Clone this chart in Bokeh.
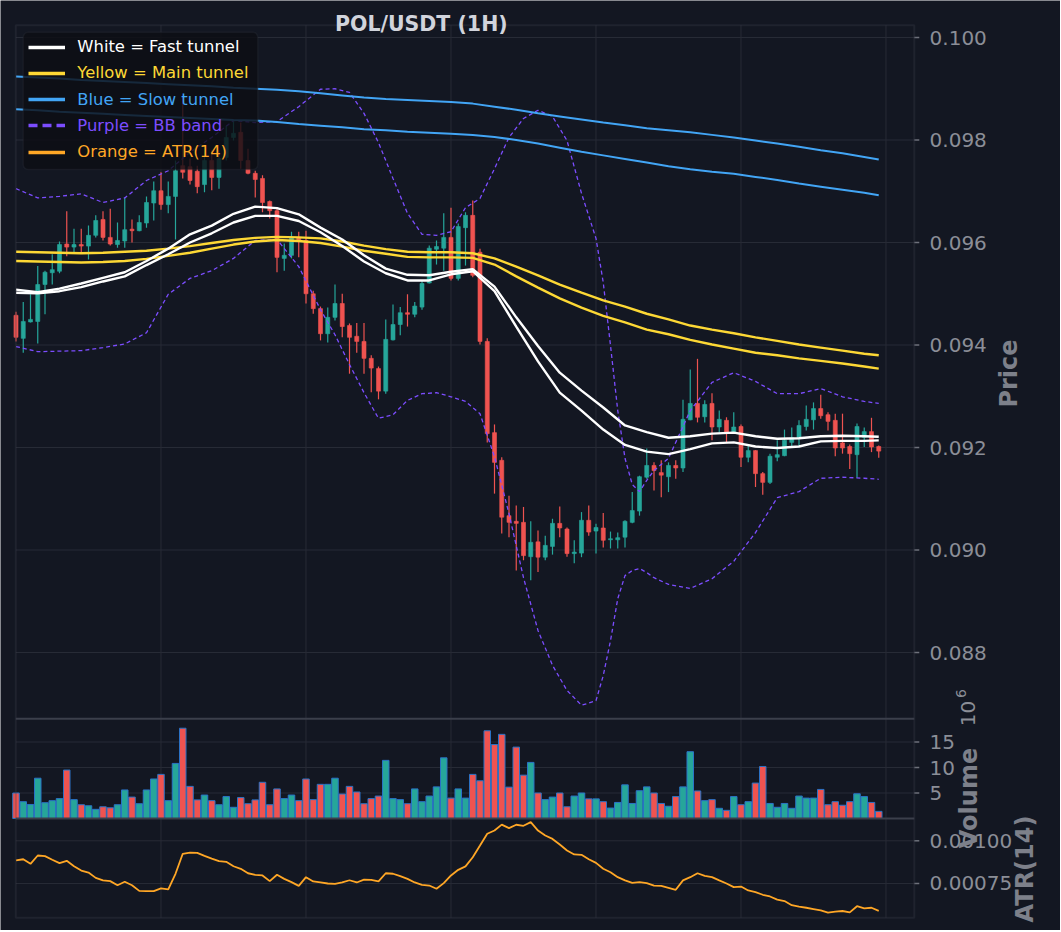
from math import pi
from bokeh.plotting import figure
from bokeh.models import Range1d, Label, Legend, LegendItem, BoxAnnotation, ColumnDataSource
from bokeh.embed import file_html
from bokeh.resources import INLINE

# ---------------- data ----------------
open_ = [
    0.09458, 0.09413, 0.09445, 0.09446, 0.09518, 0.09541, 0.09544, 0.09597, 0.09591, 0.09596,
    0.09593, 0.09614, 0.09645, 0.09610, 0.09596, 0.09603, 0.09626, 0.09623, 0.09638, 0.09677,
    0.09701, 0.09674, 0.09690, 0.09750, 0.09748, 0.09739, 0.09713, 0.09760, 0.09727, 0.09766,
    0.09805, 0.09815, 0.09760, 0.09735, 0.09725, 0.09680, 0.09662, 0.09569, 0.09575, 0.09610,
    0.09604, 0.09500, 0.09471, 0.09422, 0.09454, 0.09481, 0.09438, 0.09417, 0.09407, 0.09374,
    0.09354, 0.09310, 0.09410, 0.09440, 0.09463, 0.09460, 0.09474, 0.09521, 0.09587, 0.09589,
    0.09610, 0.09530, 0.09629, 0.09653, 0.09581, 0.09407, 0.09229, 0.09175, 0.09067, 0.09056,
    0.09054, 0.08987, 0.09016, 0.08986, 0.09007, 0.09052, 0.09041, 0.08993, 0.08994, 0.09058,
    0.09037, 0.09043, 0.09020, 0.09020, 0.09025, 0.09054, 0.09076, 0.09142, 0.09165, 0.09151,
    0.09143, 0.09165, 0.09160, 0.09254, 0.09286, 0.09260, 0.09286, 0.09240, 0.09253, 0.09230,
    0.09241, 0.09181, 0.09194, 0.09149, 0.09132, 0.09181, 0.09184, 0.09210, 0.09219, 0.09241,
    0.09254, 0.09276, 0.09264, 0.09253, 0.09209, 0.09202, 0.09186, 0.09220, 0.09231, 0.09202,
]
high = [
    0.09465, 0.09484, 0.09499, 0.09554, 0.09545, 0.09577, 0.09602, 0.09661, 0.09627, 0.09627,
    0.09633, 0.09653, 0.09661, 0.09666, 0.09639, 0.09688, 0.09645, 0.09653, 0.09690, 0.09719,
    0.09737, 0.09719, 0.09760, 0.09883, 0.09764, 0.09750, 0.09776, 0.09780, 0.09780, 0.09828,
    0.09838, 0.09834, 0.09783, 0.09740, 0.09731, 0.09682, 0.09668, 0.09598, 0.09621, 0.09621,
    0.09623, 0.09506, 0.09475, 0.09473, 0.09518, 0.09500, 0.09442, 0.09443, 0.09443, 0.09380,
    0.09358, 0.09450, 0.09479, 0.09474, 0.09499, 0.09484, 0.09526, 0.09594, 0.09604, 0.09657,
    0.09668, 0.09637, 0.09659, 0.09682, 0.09588, 0.09413, 0.09245, 0.09181, 0.09106, 0.09087,
    0.09084, 0.09056, 0.09038, 0.09028, 0.09061, 0.09085, 0.09044, 0.09019, 0.09074, 0.09087,
    0.09051, 0.09072, 0.09036, 0.09034, 0.09058, 0.09113, 0.09145, 0.09198, 0.09171, 0.09175,
    0.09171, 0.09175, 0.09293, 0.09352, 0.09373, 0.09292, 0.09306, 0.09272, 0.09259, 0.09269,
    0.09245, 0.09205, 0.09195, 0.09152, 0.09188, 0.09214, 0.09235, 0.09239, 0.09253, 0.09282,
    0.09288, 0.09303, 0.09269, 0.09266, 0.09266, 0.09206, 0.09247, 0.09239, 0.09258, 0.09204,
]
low = [
    0.09407, 0.09385, 0.09444, 0.09403, 0.09460, 0.09518, 0.09540, 0.09573, 0.09579, 0.09579,
    0.09567, 0.09610, 0.09604, 0.09594, 0.09590, 0.09590, 0.09600, 0.09622, 0.09629, 0.09643,
    0.09664, 0.09657, 0.09606, 0.09725, 0.09713, 0.09696, 0.09698, 0.09702, 0.09705, 0.09760,
    0.09799, 0.09744, 0.09733, 0.09688, 0.09659, 0.09647, 0.09542, 0.09545, 0.09569, 0.09571,
    0.09481, 0.09461, 0.09409, 0.09405, 0.09448, 0.09415, 0.09344, 0.09385, 0.09344, 0.09308,
    0.09294, 0.09305, 0.09409, 0.09419, 0.09436, 0.09454, 0.09469, 0.09520, 0.09557, 0.09545,
    0.09526, 0.09526, 0.09555, 0.09532, 0.09401, 0.09210, 0.09110, 0.09032, 0.09025, 0.08960,
    0.08980, 0.08941, 0.08957, 0.08980, 0.08991, 0.09025, 0.08987, 0.08974, 0.08986, 0.09028,
    0.08993, 0.09005, 0.09003, 0.09003, 0.09005, 0.09052, 0.09067, 0.09139, 0.09116, 0.09103,
    0.09113, 0.09139, 0.09152, 0.09253, 0.09249, 0.09249, 0.09214, 0.09230, 0.09210, 0.09227,
    0.09162, 0.09171, 0.09123, 0.09108, 0.09129, 0.09173, 0.09183, 0.09201, 0.09201, 0.09233,
    0.09235, 0.09256, 0.09233, 0.09183, 0.09188, 0.09158, 0.09141, 0.09201, 0.09191, 0.09180,
]
close_ = [
    0.09415, 0.09446, 0.09450, 0.09518, 0.09542, 0.09547, 0.09596, 0.09591, 0.09596, 0.09593,
    0.09614, 0.09643, 0.09610, 0.09597, 0.09604, 0.09625, 0.09623, 0.09639, 0.09678, 0.09701,
    0.09674, 0.09690, 0.09740, 0.09737, 0.09721, 0.09709, 0.09760, 0.09727, 0.09764, 0.09805,
    0.09813, 0.09760, 0.09735, 0.09723, 0.09678, 0.09662, 0.09571, 0.09575, 0.09610, 0.09604,
    0.09500, 0.09471, 0.09422, 0.09454, 0.09481, 0.09436, 0.09415, 0.09407, 0.09374, 0.09355,
    0.09310, 0.09411, 0.09440, 0.09463, 0.09460, 0.09476, 0.09520, 0.09589, 0.09592, 0.09610,
    0.09530, 0.09631, 0.09653, 0.09536, 0.09407, 0.09227, 0.09171, 0.09064, 0.09054, 0.09052,
    0.08989, 0.09015, 0.08986, 0.09009, 0.09052, 0.09043, 0.08993, 0.08996, 0.09058, 0.09035,
    0.09044, 0.09019, 0.09022, 0.09024, 0.09056, 0.09077, 0.09143, 0.09165, 0.09155, 0.09146,
    0.09165, 0.09160, 0.09255, 0.09286, 0.09259, 0.09284, 0.09240, 0.09255, 0.09230, 0.09240,
    0.09181, 0.09194, 0.09149, 0.09132, 0.09183, 0.09186, 0.09214, 0.09219, 0.09243, 0.09255,
    0.09276, 0.09262, 0.09251, 0.09199, 0.09199, 0.09188, 0.09241, 0.09231, 0.09201, 0.09193,
]
volume = [
    5.0e6, 3.3e6, 2.75e6, 7.9e6, 3.1e6, 3.5e6, 3.9e6, 9.5e6, 3.7e6, 2.7e6,
    2.5e6, 1.8e6, 2.3e6, 2.1e6, 2.7e6, 5.6e6, 4.2e6, 2.9e6, 5.6e6, 7.75e6,
    8.65e6, 3.5e6, 10.8e6, 17.7e6, 6.3e6, 3.65e6, 4.6e6, 3.5e6, 2.7e6, 4.3e6,
    2.2e6, 4.1e6, 2.9e6, 3.65e6, 7.1e6, 2.7e6, 5.8e6, 3.9e6, 4.6e6, 3.5e6,
    7.75e6, 3.7e6, 6.7e6, 6.7e6, 7.9e6, 4.8e6, 6.3e6, 5.2e6, 2.9e6, 3.9e6,
    4.4e6, 11.4e6, 3.9e6, 3.7e6, 2.9e6, 5.8e6, 3.3e6, 4.4e6, 6.2e6, 11.9e6,
    4.0e6, 5.8e6, 4.0e6, 8.65e6, 7.4e6, 17.2e6, 14.5e6, 16.5e6, 6.15e6, 14.0e6,
    8.5e6, 11.0e6, 5.0e6, 3.7e6, 4.2e6, 5.0e6, 2.3e6, 4.4e6, 5.0e6, 3.85e6,
    3.85e6, 3.3e6, 2.05e6, 3.15e6, 6.6e6, 2.95e6, 5.45e6, 6.2e6, 5.0e6, 2.95e6,
    2.4e6, 4.3e6, 6.2e6, 13.1e6, 5.4e6, 3.5e6, 3.7e6, 2.0e6, 1.6e6, 4.3e6,
    2.7e6, 3.3e6, 6.95e6, 10.2e6, 2.95e6, 2.2e6, 2.95e6, 2.0e6, 4.4e6, 4.0e6,
    4.0e6, 5.7e6, 2.7e6, 3.3e6, 2.6e6, 3.3e6, 4.85e6, 4.3e6, 3.15e6, 1.4e6,
]
atr14 = [
    0.000885, 0.000892, 0.000865, 0.000914, 0.000910, 0.000889, 0.000869, 0.000883, 0.000851, 0.000826,
    0.000814, 0.000783, 0.000768, 0.000764, 0.000740, 0.000760, 0.000740, 0.000707, 0.000705, 0.000705,
    0.000721, 0.000715, 0.000807, 0.000924, 0.000931, 0.000929, 0.000912, 0.000896, 0.000881, 0.000877,
    0.000851, 0.000836, 0.000810, 0.000801, 0.000797, 0.000764, 0.000801, 0.000777, 0.000758, 0.000736,
    0.000787, 0.000762, 0.000756, 0.000750, 0.000748, 0.000756, 0.000769, 0.000756, 0.000773, 0.000771,
    0.000762, 0.000810, 0.000807, 0.000793, 0.000777, 0.000756, 0.000742, 0.000738, 0.000719, 0.000752,
    0.000797, 0.000830, 0.000850, 0.000904, 0.000972, 0.001041, 0.001060, 0.001095, 0.001074, 0.001094,
    0.001088, 0.001109, 0.001060, 0.001031, 0.001011, 0.000978, 0.000943, 0.000920, 0.000918, 0.000892,
    0.000871, 0.000836, 0.000816, 0.000787, 0.000768, 0.000754, 0.000758, 0.000752, 0.000738, 0.000736,
    0.000725, 0.000713, 0.000768, 0.000787, 0.000810, 0.000795, 0.000787, 0.000768, 0.000750, 0.000729,
    0.000732, 0.000709, 0.000699, 0.000684, 0.000674, 0.000656, 0.000647, 0.000623, 0.000615, 0.000608,
    0.000600, 0.000592, 0.000579, 0.000585, 0.000589, 0.000581, 0.000617, 0.000604, 0.000608, 0.000590,
]

# tunnel lines, read every 3 bars
line_idx = [0, 3, 6, 9, 12, 15, 18, 21, 24, 27, 30, 33, 36, 39, 42, 45, 48, 51, 54, 57,
            60, 63, 66, 69, 72, 75, 78, 81, 84, 87, 90, 93, 96, 99, 102, 105, 108, 111, 114, 117, 119]
fast_upper = [0.09508, 0.09503, 0.09510, 0.09520, 0.09531, 0.09542, 0.09564, 0.09588, 0.09616, 0.09633,
              0.09656, 0.09670, 0.09667, 0.09655, 0.09629, 0.09606, 0.09575, 0.09549, 0.09537, 0.09536,
              0.09543, 0.09548, 0.09514, 0.09454, 0.09398, 0.09346, 0.09311, 0.09278, 0.09243, 0.09230,
              0.09219, 0.09222, 0.09227, 0.09229, 0.09222, 0.09217, 0.09218, 0.09222, 0.09223, 0.09222, 0.09221]
fast_lower = [0.09502, 0.09501, 0.09505, 0.09513, 0.09524, 0.09534, 0.09556, 0.09577, 0.09600, 0.09618,
              0.09639, 0.09652, 0.09652, 0.09642, 0.09620, 0.09593, 0.09563, 0.09540, 0.09526, 0.09526,
              0.09538, 0.09544, 0.09505, 0.09436, 0.09368, 0.09307, 0.09272, 0.09235, 0.09205, 0.09192,
              0.09187, 0.09197, 0.09208, 0.09210, 0.09202, 0.09199, 0.09202, 0.09212, 0.09213, 0.09213, 0.09214]
main_upper = [0.09582, 0.09581, 0.09580, 0.09579, 0.09580, 0.09582, 0.09584, 0.09588, 0.09593, 0.09599,
              0.09605, 0.09609, 0.09611, 0.09610, 0.09608, 0.09602, 0.09594, 0.09587, 0.09582, 0.09581,
              0.09581, 0.09579, 0.09569, 0.09553, 0.09536, 0.09518, 0.09502, 0.09487, 0.09475, 0.09461,
              0.09450, 0.09438, 0.09430, 0.09423, 0.09415, 0.09408, 0.09401, 0.09395, 0.09389, 0.09383, 0.09380]
main_lower = [0.09564, 0.09563, 0.09562, 0.09561, 0.09562, 0.09564, 0.09568, 0.09574, 0.09580, 0.09588,
              0.09596, 0.09602, 0.09605, 0.09603, 0.09599, 0.09592, 0.09584, 0.09578, 0.09572, 0.09571,
              0.09571, 0.09570, 0.09557, 0.09534, 0.09512, 0.09491, 0.09473, 0.09457, 0.09444, 0.09430,
              0.09421, 0.09410, 0.09401, 0.09393, 0.09385, 0.09380, 0.09374, 0.09369, 0.09364, 0.09358, 0.09354]
slow_upper = [0.09924, 0.09922, 0.09920, 0.09917, 0.09915, 0.09913, 0.09911, 0.09909, 0.09907, 0.09905,
              0.09902, 0.09900, 0.09898, 0.09895, 0.09891, 0.09887, 0.09883, 0.09880, 0.09878, 0.09876,
              0.09874, 0.09871, 0.09865, 0.09859, 0.09852, 0.09846, 0.09840, 0.09834, 0.09829, 0.09823,
              0.09819, 0.09815, 0.09810, 0.09805, 0.09799, 0.09793, 0.09787, 0.09780, 0.09774, 0.09767, 0.09762]
slow_lower = [0.09860, 0.09858, 0.09855, 0.09853, 0.09851, 0.09849, 0.09847, 0.09845, 0.09843, 0.09841,
              0.09839, 0.09838, 0.09835, 0.09831, 0.09828, 0.09825, 0.09821, 0.09819, 0.09816, 0.09814,
              0.09812, 0.09810, 0.09806, 0.09800, 0.09793, 0.09785, 0.09777, 0.09770, 0.09763, 0.09756,
              0.09749, 0.09743, 0.09738, 0.09734, 0.09728, 0.09722, 0.09715, 0.09709, 0.09703, 0.09697, 0.09692]

# Bollinger band, read denser where it bends sharply
bb_idx = [0, 3, 6, 9, 12, 15, 18, 21, 24, 27, 30, 33, 36, 39, 42, 44, 46, 48, 50, 52,
          54, 56, 58, 60, 62, 64, 66, 68, 70, 72, 74, 76, 78, 80, 81, 82, 83, 84, 85, 86,
          87, 88, 90, 93, 96, 99, 102, 105, 108, 111, 114, 117, 119]
bb_upper = [0.09705, 0.09687, 0.09690, 0.09695, 0.09678, 0.09687, 0.09721, 0.09740, 0.09776, 0.09805,
            0.09838, 0.09834, 0.09836, 0.09865, 0.09899, 0.09900, 0.09893, 0.09852, 0.09795, 0.09725,
            0.09657, 0.09616, 0.09614, 0.09621, 0.09668, 0.09686, 0.09744, 0.09805, 0.09842, 0.09858,
            0.09846, 0.09799, 0.09696, 0.09608, 0.09522, 0.09399, 0.09272, 0.09179, 0.09128, 0.09114,
            0.09136, 0.09155, 0.09179, 0.09272, 0.09327, 0.09346, 0.09329, 0.09305, 0.09305, 0.09315,
            0.09299, 0.09290, 0.09286]
bb_lower = [0.09397, 0.09387, 0.09388, 0.09389, 0.09395, 0.09402, 0.09424, 0.09499, 0.09530, 0.09545,
            0.09569, 0.09604, 0.09606, 0.09553, 0.09469, 0.09420, 0.09362, 0.09307, 0.09257, 0.09264,
            0.09292, 0.09305, 0.09307, 0.09299, 0.09290, 0.09266, 0.09182, 0.09071, 0.08946, 0.08843,
            0.08775, 0.08726, 0.08697, 0.08706, 0.08755, 0.08823, 0.08905, 0.08950, 0.08960, 0.08964,
            0.08956, 0.08946, 0.08933, 0.08925, 0.08944, 0.08978, 0.09034, 0.09102, 0.09114, 0.09140,
            0.09142, 0.09140, 0.09138]

price_ticks = [0.088, 0.090, 0.092, 0.094, 0.096, 0.098, 0.100]
volume_ticks = [5e6, 10e6, 15e6]
atr_ticks = [0.00075, 0.00100]
x_grid_ticks = [20, 40, 60, 80, 100, 120]

legend_labels = ["White = Fast tunnel", "Yellow = Main tunnel", "Blue = Slow tunnel",
                 "Purple = BB band", "Orange = ATR(14)"]

# ---------------- styling / layout ----------------
BG = "#131722"
GRID = "#272b36"
SPINE = "#3b3f4b"
TICKC = "#6e717b"
TICK = "#8b8e97"
AXLAB = "#7d808a"
UP = "#26a69a"
DOWN = "#ef5350"
WHITE, YELLOW, BLUE, PURPLE, ORANGE = "#ffffff", "#fdd835", "#42a5f5", "#7c4dff", "#ffa726"
FONT = "DejaVu Sans"

W, H = 1060, 930
# panel box in data units (x: bar index)
X_LEFT, X_RIGHT = -0.03, 123.9
PX_PER_BAR = 7.25
TICK_LEN = 5 / PX_PER_BAR
PRICE_TOP, PRICE_BOTTOM, FRAME_BOTTOM = 0.100240, 0.086706, 0.082824
VOL_BOTTOM = 0.0

# the plotting frame covers the whole canvas; panels are laid out with their own scales
p = figure(width=W, height=H, output_backend="svg", toolbar_location=None,
           x_range=Range1d(-2.1379, 144.069), y_range=Range1d(0.082576, 0.100722),
           x_axis_location=None, y_axis_location=None,
           min_border_left=0, min_border_right=0, min_border_top=0, min_border_bottom=0,
           background_fill_color=BG, border_fill_color=BG, outline_line_color=None)
p.extra_y_ranges = {"vol": Range1d(-21.96e6, 160.39e6), "atr": Range1d(0.0004748, 0.0059198)}
p.grid.visible = False

# grid lines limited to their panels
p.segment(x0=X_LEFT, x1=X_RIGHT, y0=price_ticks, y1=price_ticks, line_color=GRID, line_width=1)
p.segment(x0=X_LEFT, x1=X_RIGHT, y0=volume_ticks, y1=volume_ticks, line_color=GRID, line_width=1,
          y_range_name="vol")
p.segment(x0=X_LEFT, x1=X_RIGHT, y0=atr_ticks, y1=atr_ticks, line_color=GRID, line_width=1,
          y_range_name="atr")
p.segment(x0=x_grid_ticks, x1=x_grid_ticks, y0=FRAME_BOTTOM, y1=PRICE_TOP, line_color=GRID, line_width=1)

N = len(close_)
xs = list(range(N))
colors = [UP if c >= o else DOWN for o, c in zip(open_, close_)]
src = ColumnDataSource(dict(
    x=xs, high=high, low=low,
    top=[max(o, c) for o, c in zip(open_, close_)],
    bottom=[min(o, c) for o, c in zip(open_, close_)],
    color=colors, vol=volume, atr=atr14))

# volume panel
p.vbar(x="x", width=0.9, top="vol", bottom=VOL_BOTTOM, fill_color="color", line_color="#2a73c6",
       line_width=1, y_range_name="vol", source=src)
# ATR panel
p.line(x="x", y="atr", line_color=ORANGE, line_width=1.8, y_range_name="atr", source=src)
# candles
p.segment(x0="x", y0="low", x1="x", y1="high", line_color="color", line_width=1.2, source=src)
p.vbar(x="x", width=0.56, top="top", bottom="bottom", fill_color="color", line_color="color",
       line_width=0.6, source=src)

# indicator lines
p.line(bb_idx, bb_upper, line_color=PURPLE, line_width=1.3, line_dash="4 3")
p.line(bb_idx, bb_lower, line_color=PURPLE, line_width=1.3, line_dash="4 3")
p.line(line_idx, slow_upper, line_color=BLUE, line_width=2.0)
p.line(line_idx, slow_lower, line_color=BLUE, line_width=2.0)
p.line(line_idx, main_upper, line_color=YELLOW, line_width=2.4)
p.line(line_idx, main_lower, line_color=YELLOW, line_width=2.4)
p.line(line_idx, fast_upper, line_color=WHITE, line_width=2.4)
p.line(line_idx, fast_lower, line_color=WHITE, line_width=2.4)

# spines and panel separators
p.add_layout(BoxAnnotation(left=X_LEFT, right=X_RIGHT, bottom=FRAME_BOTTOM, top=PRICE_TOP,
                           fill_alpha=0, line_color=SPINE, line_width=2))
p.segment(x0=X_LEFT, x1=X_RIGHT, y0=PRICE_BOTTOM, y1=PRICE_BOTTOM, line_color=SPINE, line_width=2)
p.segment(x0=X_LEFT, x1=X_RIGHT, y0=VOL_BOTTOM, y1=VOL_BOTTOM, line_color=SPINE, line_width=2,
          y_range_name="vol")

# right-hand ticks and tick labels, one set per panel scale
def ticks(values, labels, range_name="default"):
    n = len(values)
    kw = {} if range_name == "default" else {"y_range_name": range_name}
    p.segment(x0=[X_RIGHT] * n, x1=[X_RIGHT + TICK_LEN] * n, y0=values, y1=values,
              line_color=TICKC, line_width=1.5, **kw)
    p.text(x=[X_RIGHT] * n, y=values, text=labels, x_offset=15.3, text_align="left",
           text_baseline="middle", text_color=TICK, text_font={"value": FONT},
           text_font_size="20px", **kw)

ticks(price_ticks, [f"{t:.3f}" for t in price_ticks])
ticks(volume_ticks, [f"{t / 1e6:.0f}" for t in volume_ticks], "vol")
ticks(atr_ticks, [f"{t:.5f}" for t in atr_ticks], "atr")

# legend box + one legend per entry (each with its own text colour); handles are thicker
p.add_layout(BoxAnnotation(left=22.7, right=257.3, bottom=761, top=898.3,
                           left_units="screen", right_units="screen",
                           bottom_units="screen", top_units="screen",
                           fill_color="#0c0e14", fill_alpha=0.82, line_color="#2e313b",
                           line_width=1.5, border_radius=5))
legend_colors = [WHITE, YELLOW, BLUE, PURPLE, ORANGE]
legend_dash = ["solid", "solid", "solid", "9 5", "solid"]
legend_y = [873.3, 847.05, 820.8, 794.55, 768.3]
for label, col, dash, ly in zip(legend_labels, legend_colors, legend_dash, legend_y):
    handle = p.line(x=[X_LEFT], y=[PRICE_TOP], line_color=col, line_width=3.4, line_dash=dash)
    p.add_layout(Legend(items=[LegendItem(label=label, renderers=[handle])], location=(28.3, ly),
                        padding=0, margin=0, spacing=0, glyph_width=37, glyph_height=20,
                        label_height=20, label_standoff=12, border_line_color=None,
                        background_fill_alpha=0, label_text_color=col,
                        label_text_font=FONT, label_text_font_size="16.4px"))

# title and axis labels (positions are where the text baseline sits on screen)
def txt(text, x, y, size, color, bold=False, angle=0.0):
    p.add_layout(Label(x=x, y=y, x_units="screen", y_units="screen", text=text, angle=angle,
                       text_align="center", text_baseline="alphabetic", text_color=color,
                       text_font=FONT, text_font_size=size,
                       text_font_style="bold" if bold else "normal"))

txt("POL/USDT (1H)", 420.8, H - 23, "20.5px", "#d1d4dc", bold=True)
txt("Price", 1008.5, H - 373, "24px", AXLAB, bold=True, angle=pi / 2)
txt("Volume", 968, H - 797.5, "24px", AXLAB, bold=True, angle=pi / 2)
txt("10", 967.5, H - 713, "20px", TICK, angle=pi / 2)
txt("6", 960, H - 693, "14px", TICK, angle=pi / 2)
txt("ATR(14)", 1024, H - 868.5, "24px", AXLAB, bold=True, angle=pi / 2)

html = file_html(p, INLINE, title="POL/USDT (1H)")
html = html.replace("<body>", '<body style="background-color:#131722;">', 1)
open("out.html", "w").write(html)
